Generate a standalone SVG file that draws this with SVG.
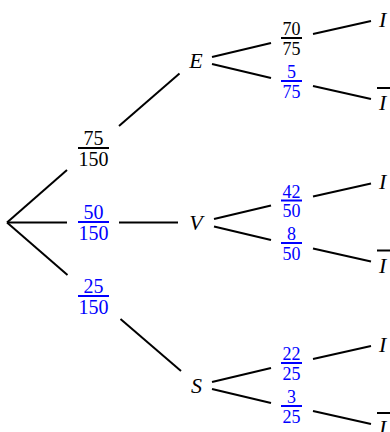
<svg xmlns="http://www.w3.org/2000/svg" width="390" height="432" viewBox="0 0 390 432">
<style>
.ln{stroke:#000;stroke-width:2;fill:none;stroke-linecap:butt}
.num{font-family:"Liberation Serif","Times New Roman",serif;font-size:20px;text-anchor:middle}
.n2{font-size:18px}
.k{fill:#000}
.b{fill:#0000ff}
.barK{stroke:#000;stroke-width:2}
.barB{stroke:#0000ff;stroke-width:2}
.lab{font-family:"Liberation Serif","Times New Roman",serif;font-style:italic;font-size:22px;fill:#000}
</style>
<rect width="390" height="432" fill="#fff"/>
<g id="connectors">
<line class="ln" x1="7" y1="222.5" x2="67" y2="170"/>
<line class="ln" x1="119" y1="126" x2="179.5" y2="73.5"/>
<line class="ln" x1="7" y1="222.5" x2="67" y2="222.5"/>
<line class="ln" x1="119" y1="222.5" x2="178" y2="222.5"/>
<line class="ln" x1="7" y1="222.5" x2="67.5" y2="275"/>
<line class="ln" x1="120.5" y1="319" x2="181" y2="371"/>
<line class="ln" x1="212" y1="57" x2="271" y2="43"/>
<line class="ln" x1="212" y1="64" x2="271" y2="78"/>
<line class="ln" x1="313" y1="34" x2="371" y2="21"/>
<line class="ln" x1="313" y1="86" x2="371" y2="99"/>
<line class="ln" x1="214" y1="219" x2="271" y2="205.5"/>
<line class="ln" x1="214" y1="226.5" x2="271" y2="240"/>
<line class="ln" x1="313" y1="196.5" x2="371" y2="183.5"/>
<line class="ln" x1="313" y1="248.5" x2="371" y2="261.5"/>
<line class="ln" x1="212" y1="382" x2="271" y2="368"/>
<line class="ln" x1="212" y1="389" x2="271" y2="403"/>
<line class="ln" x1="313" y1="359" x2="371" y2="346"/>
<line class="ln" x1="313" y1="411" x2="371" y2="424"/>
</g>
<g id="p-E">
<text class="num k" x="93.5" y="145">75</text>
<line class="barK" x1="78" y1="148" x2="109" y2="148"/>
<text class="num k" x="93.5" y="166">150</text>
</g>
<g id="p-V">
<text class="num b" x="93.5" y="219">50</text>
<line class="barB" x1="78" y1="222" x2="109" y2="222"/>
<text class="num b" x="93.5" y="240">150</text>
</g>
<g id="p-S">
<text class="num b" x="93.5" y="293">25</text>
<line class="barB" x1="78" y1="296" x2="109" y2="296"/>
<text class="num b" x="93.5" y="314">150</text>
</g>
<g id="node-E"><text class="lab" x="196" y="67.5" text-anchor="middle">E</text></g>
<g id="node-V"><text class="lab" x="196" y="230" text-anchor="middle">V</text></g>
<g id="node-S"><text class="lab" x="196.5" y="392.5" text-anchor="middle">S</text></g>
<g id="p-E-I">
<text class="num n2 k" x="291.5" y="35">70</text>
<line class="barK" x1="281" y1="38" x2="302" y2="38"/>
<text class="num n2 k" x="291.5" y="54.5">75</text>
</g>
<g id="p-E-nI">
<text class="num n2 b" x="291.5" y="78">5</text>
<line class="barB" x1="281" y1="81" x2="302" y2="81"/>
<text class="num n2 b" x="291.5" y="97.5">75</text>
</g>
<g id="p-V-I">
<text class="num n2 b" x="291.5" y="197.5">42</text>
<line class="barB" x1="281" y1="200.5" x2="302" y2="200.5"/>
<text class="num n2 b" x="291.5" y="217">50</text>
</g>
<g id="p-V-nI">
<text class="num n2 b" x="291.5" y="240">8</text>
<line class="barB" x1="281" y1="243" x2="302" y2="243"/>
<text class="num n2 b" x="291.5" y="259.5">50</text>
</g>
<g id="p-S-I">
<text class="num n2 b" x="291.5" y="360">22</text>
<line class="barB" x1="281" y1="363" x2="302" y2="363"/>
<text class="num n2 b" x="291.5" y="379.5">25</text>
</g>
<g id="p-S-nI">
<text class="num n2 b" x="291.5" y="403">3</text>
<line class="barB" x1="281" y1="406" x2="302" y2="406"/>
<text class="num n2 b" x="291.5" y="422.5">25</text>
</g>
<g id="node-E-I"><text class="lab" x="379" y="26.5">I</text></g>
<g id="node-E-nI"><line class="barK" x1="377" y1="88" x2="390" y2="88"/><text class="lab" x="379" y="110">I</text></g>
<g id="node-V-I"><text class="lab" x="379" y="189">I</text></g>
<g id="node-V-nI"><line class="barK" x1="377" y1="250.5" x2="390" y2="250.5"/><text class="lab" x="379" y="272.5">I</text></g>
<g id="node-S-I"><text class="lab" x="379" y="351.5">I</text></g>
<g id="node-S-nI"><line class="barK" x1="377" y1="413" x2="390" y2="413"/><text class="lab" x="379" y="435">I</text></g>
</svg>
